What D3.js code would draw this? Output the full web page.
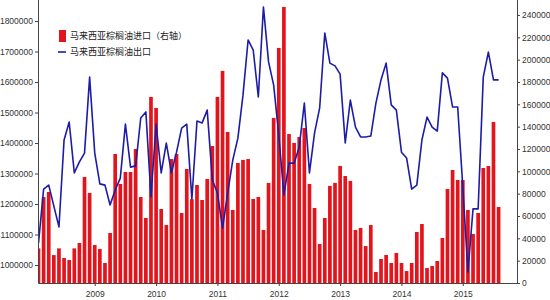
<!DOCTYPE html>
<head>
  <meta charset='utf-8'>
  <style>
      body { margin: 0; background: #fff; }
      .axis text {
        font-family: 'Liberation Sans', Arial, sans-serif;
        font-size: 8.5px;
        fill: #333;
      }
      .axis path, .axis line { stroke: #444; }
      .frame { stroke: #444; stroke-width: 1; fill: none; }
      .bar { fill: #e3141b; }
      .line { fill: none; stroke: #1c1ca6; stroke-width: 1.6px; stroke-linejoin: round; }
      .legend text {
        font-family: 'Noto Sans CJK SC', sans-serif;
        font-size: 9px;
        fill: #222;
      }
  </style>
</head>
<body>
<script src='https://d3js.org/d3.v7.min.js'></script>
<script>
    // monthly data, Feb 2008 .. Aug 2015
    var importLabel = '马来西亚棕榈油进口（右轴）',
        exportLabel = '马来西亚棕榈油出口';

    var months = d3.timeMonth.range(new Date(2008, 1, 1), new Date(2015, 8, 1));

    // imports (right axis)
    var importVals = [
        31000, 77000, 81500, 25000, 31000, 22400, 20600, 31000, 35800, 94900,
        80600, 34000, 30500, 17900, 44800, 115500, 88700, 99400, 99400, 120000,
        77000, 58200, 166600, 156700, 66300, 51900, 111000, 115500, 62700, 102100,
        75000, 87800, 74300, 93100, 122700, 166600, 189900, 135200, 65400, 107500,
        110200, 111000, 75200, 77000, 47500, 89600, 147800, 210500, 247200, 133400,
        125400, 130800, 138800, 88700, 67200, 34900, 58200, 86900, 89600, 104800,
        95800, 91400, 47500, 49300, 33100, 51900, 9900, 21500, 25100, 17900,
        26900, 17900, 10700, 17900, 45700, 52800, 13400, 15200, 19700, 40300,
        84200, 101200, 92200, 92200, 65400, 43900, 62700, 103000, 104800, 144200,
        68100
    ];

    // exports (left axis)
    var exportVals = [
        1072000, 1249000, 1262000, 1193000, 1125000, 1410000, 1469000, 1302000, 1338000, 1367000,
        1616000, 1367000, 1266000, 1262000, 1197000, 1246000, 1285000, 1462000, 1321000, 1325000,
        1482000, 1502000, 1223000, 1462000, 1302000, 1400000, 1302000, 1370000, 1449000, 1462000,
        1216000, 1472000, 1466000, 1508000, 1279000, 1236000, 1121000, 1236000, 1344000, 1416000,
        1557000, 1738000, 1705000, 1551000, 1846000, 1666000, 1590000, 1426000, 1230000, 1334000,
        1334000, 1387000, 1531000, 1302000, 1433000, 1515000, 1761000, 1662000, 1653000, 1626000,
        1400000, 1541000, 1452000, 1420000, 1420000, 1423000, 1531000, 1607000, 1662000, 1525000,
        1508000, 1370000, 1351000, 1249000, 1262000, 1410000, 1485000, 1452000, 1439000, 1630000,
        1613000, 1518000, 1518000, 1256000, 977000, 1184000, 1184000, 1616000, 1698000, 1607000,
        1607000
    ];

    var yearLabels = ['2009', '2010', '2011', '2012', '2013', '2014', '2015'];
    var leftTicks = d3.range(1000000, 1800001, 100000);
    var rightTicks = d3.range(0, 240001, 20000);

    var
        W = 550,
        H = 300,
        plotLeft = 38,
        plotRight = 517,
        plotBottom = 283,
        plotTop = 0;

    var
        x = d3.scaleLinear().domain([-0.1, 93.6]).range([plotLeft, plotRight]),
        yL = d3.scaleLinear().domain([941000, 1869000]).range([plotBottom, plotTop]),
        yR = d3.scaleLinear().domain([0, 253400]).range([plotBottom, plotTop]),
        step = x(1) - x(0),
        barW = step * 0.72;

    // january of each labelled year, as month index
    var yearIdx = yearLabels.map(function(y) {
        return months.findIndex(function(m) {
            return m.getFullYear() === +y && m.getMonth() === 0;
        });
    });

    var svg = d3.select('body').append('svg')
        .attr('width', W)
        .attr('height', H);

    svg.append('clipPath').attr('id', 'plot')
      .append('rect')
        .attr('x', plotLeft).attr('y', plotTop)
        .attr('width', plotRight - plotLeft).attr('height', plotBottom - plotTop);

    var plot = svg.append('g').attr('clip-path', 'url(#plot)');

    plot.selectAll('.bar')
        .data(importVals)
        .enter().append('rect')
        .attr('class', 'bar')
        .attr('x', function(d, i) { return x(i) - barW / 2; })
        .attr('width', barW)
        .attr('y', function(d) { return yR(d); })
        .attr('height', function(d) { return yR(0) - yR(d); });

    var line = d3.line()
        .x(function(d, i) { return x(i); })
        .y(function(d) { return yL(d); });

    plot.append('path')
        .datum(exportVals)
        .attr('class', 'line')
        .attr('d', line);

    // axes
    svg.append('g')
        .attr('class', 'axis')
        .attr('transform', 'translate(' + plotLeft + ',0)')
        .call(d3.axisLeft(yL).tickValues(leftTicks).tickSize(3).tickPadding(2).tickFormat(d3.format('d')))
        .call(function(g) { g.select('.domain').remove(); });

    svg.append('g')
        .attr('class', 'axis')
        .attr('transform', 'translate(' + plotRight + ',0)')
        .call(d3.axisRight(yR).tickValues(rightTicks).tickSize(3).tickPadding(2).tickFormat(d3.format('d')))
        .call(function(g) { g.select('.domain').remove(); });

    svg.append('g')
        .attr('class', 'axis')
        .attr('transform', 'translate(0,' + plotBottom + ')')
        .call(d3.axisBottom(x).tickValues(yearIdx).tickSize(3).tickPadding(5)
            .tickFormat(function(d, i) { return yearLabels[i]; }))
        .call(function(g) { g.select('.domain').remove(); });

    svg.append('path')
        .attr('class', 'frame')
        .attr('d', 'M' + (plotLeft + 0.5) + ',' + plotTop + 'V' + (plotBottom + 0.5) + 'H' + (plotRight + 0.5) + 'V' + plotTop);

    // legend
    var legend = svg.append('g').attr('class', 'legend');
    legend.append('rect')
        .attr('x', 59).attr('y', 30).attr('width', 7).attr('height', 12)
        .attr('fill', '#e3141b');
    legend.append('text')
        .attr('x', 70).attr('y', 36).attr('dy', '0.35em')
        .text(importLabel);
    legend.append('line')
        .attr('x1', 58).attr('x2', 66).attr('y1', 52).attr('y2', 52)
        .attr('stroke', '#1c1ca6').attr('stroke-width', 1.6);
    legend.append('text')
        .attr('x', 70).attr('y', 52).attr('dy', '0.35em')
        .text(exportLabel);
</script>
</body>
